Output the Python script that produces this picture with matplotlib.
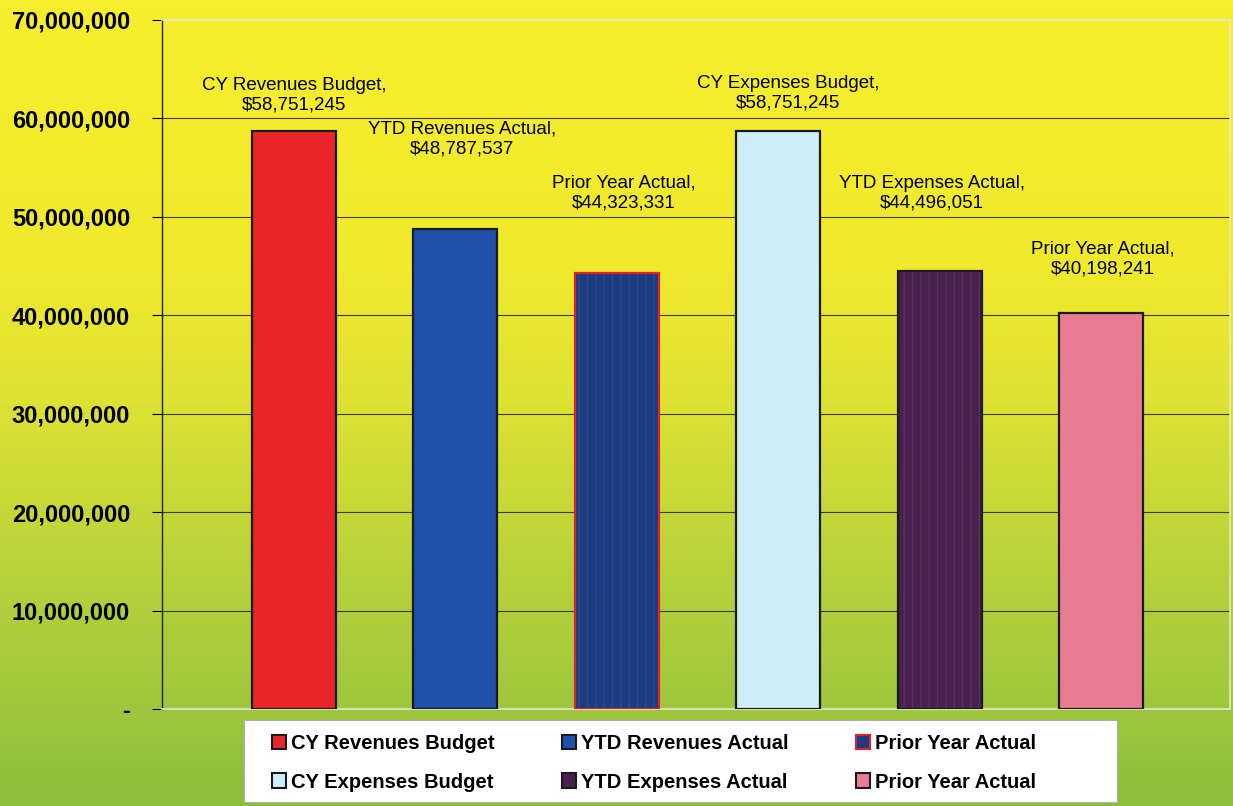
import matplotlib
matplotlib.use('Agg')
import matplotlib.pyplot as plt
import numpy as np
from matplotlib.colors import LinearSegmentedColormap
from matplotlib.patches import Patch, Rectangle
from matplotlib.ticker import FuncFormatter

plt.rcParams['font.family'] = ['Liberation Sans', 'DejaVu Sans']

# chart data
categories = ['CY Revenues Budget', 'YTD Revenues Actual', 'Prior Year Actual',
              'CY Expenses Budget', 'YTD Expenses Actual', 'Prior Year Actual']
values = [58751245, 48787537, 44323331, 58751245, 44496051, 40198241]
y_ticks = [0, 10000000, 20000000, 30000000, 40000000, 50000000, 60000000, 70000000]

# styling
face_colors = ['#e8262a', '#1f50aa', '#1d3b80', '#cdeef8', '#48204e', '#e97b92']
edge_colors = ['#1a1a1a', '#1a1a1a', '#e0202a', '#1a1a1a', '#1a1a1a', '#1a1a1a']
# label offsets (x in category units, y in data units) - the labels are staggered
label_dx = [0.0, 0.04, 0.04, 0.06, -0.05, 0.01]
label_dy = [3600000, 9100000, 8100000, 3850000, 7900000, 5500000]

fig = plt.figure(figsize=(12.33, 8.06), dpi=100)

# yellow -> green background over the whole picture
bg = fig.add_axes([0, 0, 1, 1], zorder=-10)
grad_cmap = LinearSegmentedColormap.from_list('bg', [
    (0.0, '#f7ef2c'), (0.33, '#f0e92c'), (0.5, '#dde234'),
    (0.72, '#b6d13b'), (0.87, '#a0c83d'), (1.0, '#8cbd3b')])
grad = np.linspace(0, 1, 256).reshape(-1, 1)
bg.imshow(grad, aspect='auto', cmap=grad_cmap, extent=[0, 1, 0, 1], origin='upper')
bg.axis('off')

ax = fig.add_axes([162/1233, 1 - 709/806, (1230 - 162)/1233, (709 - 20)/806])
ax.set_facecolor('none')

x = np.arange(len(categories))
for i in range(len(categories)):
    if i in (2, 4):
        # scanned bars with faint vertical stripes
        stripe = '#2c4b8e' if i == 2 else '#57305e'
        ax.bar(x[i], values[i], width=0.52, color=face_colors[i], edgecolor=stripe,
               hatch='||', linewidth=0, zorder=3)
        ax.bar(x[i], values[i], width=0.52, fill=False, edgecolor=edge_colors[i],
               linewidth=1.6, zorder=4)
    else:
        ax.bar(x[i], values[i], width=0.52, color=face_colors[i], edgecolor=edge_colors[i],
               linewidth=1.6, zorder=3)
    ax.text(x[i] + label_dx[i], values[i] + label_dy[i],
            '%s,\n$%s' % (categories[i], format(values[i], ',')),
            ha='center', va='center', fontsize=13.5, linespacing=1.2, zorder=5)

for t in y_ticks[1:-1]:
    ax.axhline(t, color='#3c3c2c', linewidth=0.8, zorder=1)

ax.set_xlim(-0.817, 5.796)
ax.set_ylim(0, 70000000)
ax.set_yticks(y_ticks)
ax.yaxis.set_major_formatter(FuncFormatter(lambda v, p: '-' if v == 0 else format(int(v), ',')))
ax.tick_params(axis='y', direction='out', length=7, width=0.8, pad=16, labelsize=17)
for lab in ax.get_yticklabels():
    lab.set_fontweight('bold')
ax.set_xticks([])

ax.spines['left'].set_color('#202020')
ax.spines['left'].set_linewidth(1.0)
for s in ('top', 'right', 'bottom'):
    ax.spines[s].set_color('#e4e4d8')
    ax.spines[s].set_linewidth(1.2)
    ax.spines[s].set_linestyle((0, (2, 1)))

# legend box drawn separately so the entries can sit where the original has them
fig.patches.append(Rectangle((244/1233, 4/806), 873/1233, 82/806, transform=fig.transFigure,
                             facecolor='white', edgecolor='#b0b0b0', linewidth=0.8, zorder=1))
handles = [Patch(facecolor=face_colors[i], edgecolor=edge_colors[i], linewidth=1.5)
           for i in range(len(categories))]
order = [0, 3, 1, 4, 2, 5]
leg = fig.legend([handles[i] for i in order], [categories[i] for i in order],
                 ncol=3, loc='center left',
                 bbox_to_anchor=(272/1233, 43/806),
                 prop={'weight': 'bold', 'size': 14.5},
                 handlelength=0.7, handleheight=0.7, handletextpad=0.25,
                 borderpad=0, labelspacing=0.95, borderaxespad=0,
                 columnspacing=3.35, frameon=False)
leg.set_zorder(5)

fig.savefig('out.png', dpi=100)
